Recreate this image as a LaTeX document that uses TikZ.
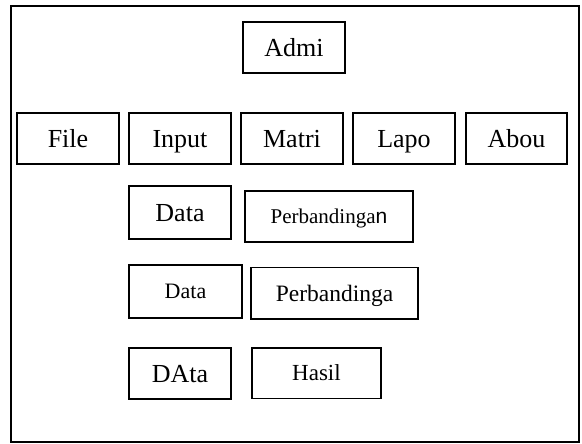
\documentclass[tikz,border=0pt]{standalone}
\usepackage{fontspec}
\setmainfont{Liberation Serif}
\newfontfamily\sansletter{Liberation Sans}
\tikzset{
  menubox/.style={draw, line width=1.1pt, rectangle, inner sep=0pt, text depth=0pt},
  wide/.style={minimum width=#1pt},
  tall/.style={minimum height=#1pt},
  big/.style={font=\fontsize{26}{26}\selectfont, text height=17.2pt},
  size21/.style={font=\fontsize{21}{21}\selectfont, text height=13.9pt},
  size22/.style={font=\fontsize{22}{22}\selectfont, text height=14.6pt},
  size23/.style={font=\fontsize{23}{23}\selectfont, text height=15.2pt},
  size235/.style={font=\fontsize{23.5}{23.5}\selectfont, text height=15.6pt},
  frame/.style={draw, line width=1.5pt}
}
\begin{document}
\begin{tikzpicture}[x=1pt, y=-1pt]
\useasboundingbox (0,0) rectangle (582,444);
% outer frame
\node[frame, inner sep=0pt, minimum width=568pt, minimum height=436pt] (frame) at (295,224) {};
% title
\node[menubox, wide=102, tall=51, big] (admi) at (294,47.5) {Admi};
% menu bar
\node[menubox, wide=102, tall=51, big] (file)  at (68,138.5)  {File};
\node[menubox, wide=102, tall=51, big] (input) at (180,138.5) {Input};
\node[menubox, wide=102, tall=51, big] (matri) at (292,138.5) {Matri};
\node[menubox, wide=102, tall=51, big] (lapo)  at (404,138.5) {Lapo};
\node[menubox, wide=101, tall=51, big] (abou)  at (516.5,138.5) {Abou};
% sub items
\node[menubox, wide=102, tall=53, big] (data1) at (180,212.5) {Data};
\node[menubox, wide=168, tall=51, size21] (perb1) at (329,216.5) {Perbandinga{\sansletter n}};
\node[menubox, wide=113, tall=53, size22] (data2) at (185.5,291.5) {Data\hspace{26pt}};
\node[menubox, wide=167, tall=51.5, size235] (perb2) at (334.5,293.25) {Perbandinga};
\node[menubox, wide=102, tall=51, big] (data3) at (180,373.5) {DAta};
\node[menubox, wide=129, tall=50.5, size23] (hasil) at (316.5,373.25) {Hasil};
\end{tikzpicture}
\end{document}
